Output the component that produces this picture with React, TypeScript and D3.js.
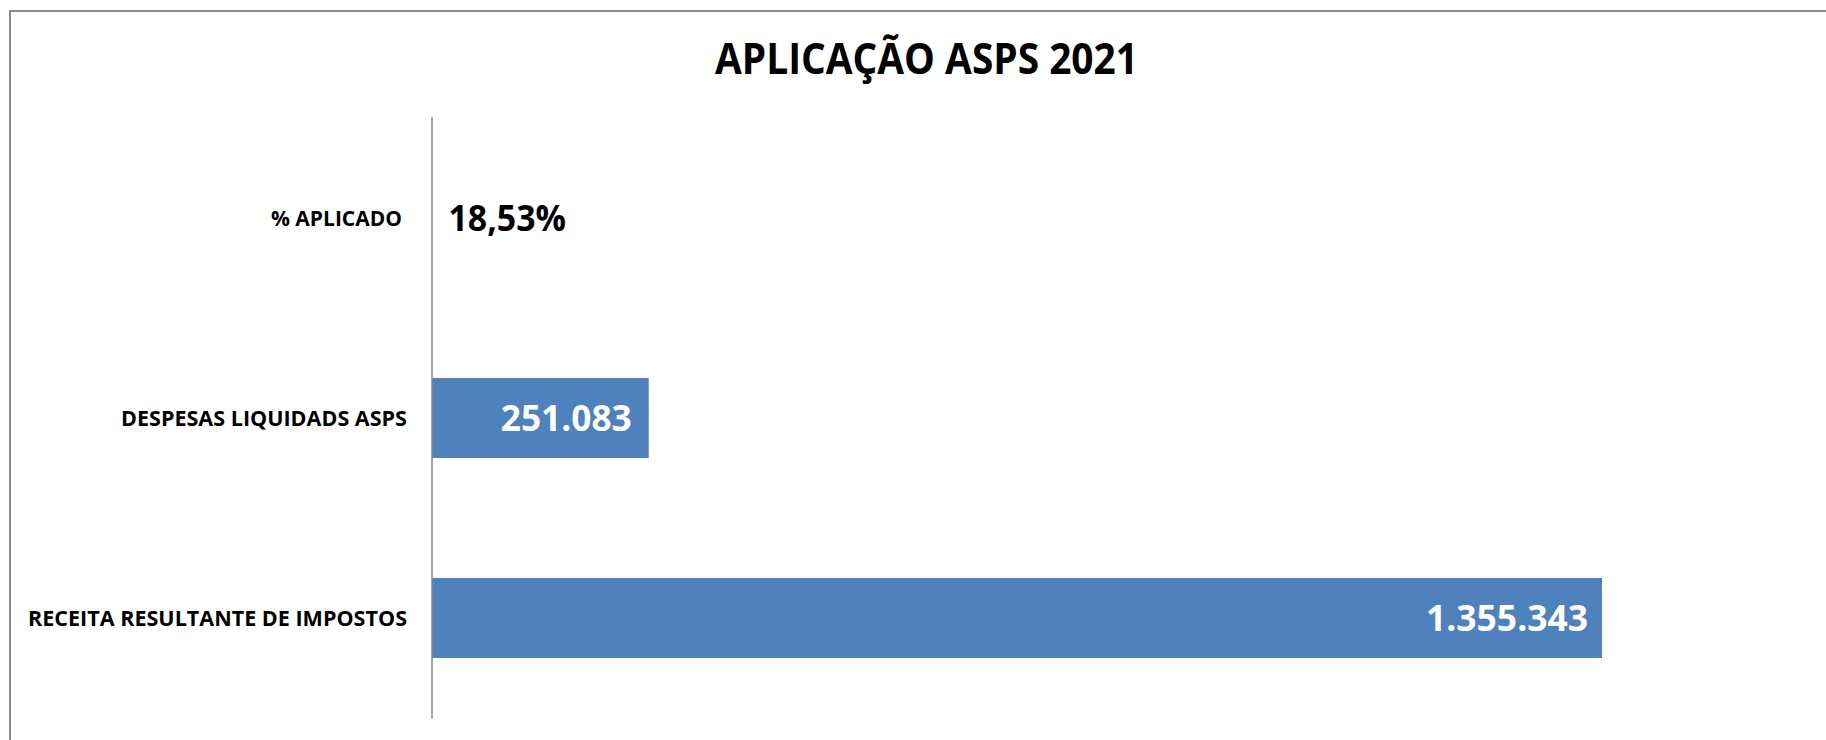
import React, { useEffect, useRef } from "react";
import * as d3 from "d3";

const TITLE = "APLICAÇÃO ASPS 2021";
const categories = ["% APLICADO", "DESPESAS LIQUIDADS ASPS", "RECEITA RESULTANTE DE IMPOSTOS"];
const values = [18.53, 251083, 1355343];
const valueLabels = ["18,53%", "251.083", "1.355.343"];

const W = 1826;
const H = 740;

export default function App() {
  const ref = useRef<SVGSVGElement | null>(null);

  useEffect(() => {
    const svg = d3.select(ref.current);
    svg.selectAll("*").remove();

    const font = "'Open Sans', 'DejaVu Sans', sans-serif";

    // chart area border (extends beyond the viewport to the right and bottom)
    svg.append("rect")
      .attr("x", 10).attr("y", 11)
      .attr("width", W + 20).attr("height", H + 20)
      .attr("fill", "#fff").attr("stroke", "#8c8c8c").attr("stroke-width", 2);

    const x = d3.scaleLinear().domain([0, 1400000]).range([432, 432 + 1170 * 1400000 / 1355343]);
    const y = d3.scaleBand<string>().domain(categories).range([118, 718]).paddingInner(0.6).paddingOuter(0.3);

    // title
    const title = svg.append("text")
      .attr("x", 715).attr("y", 74)
      .attr("font-family", font).attr("font-weight", 700).attr("font-size", 43)
      .attr("fill", "#000").text(TITLE);
    title.attr("textLength", 423).attr("lengthAdjust", "spacingAndGlyphs");

    // bars
    svg.selectAll("rect.bar")
      .data(values)
      .enter().append("rect")
      .attr("class", "bar")
      .attr("x", x(0))
      .attr("y", (_d, i) => y(categories[i])!)
      .attr("width", (d) => x(d) - x(0))
      .attr("height", y.bandwidth())
      .attr("fill", "#4F81BD");

    // axis line
    svg.append("line")
      .attr("x1", x(0)).attr("x2", x(0))
      .attr("y1", 117).attr("y2", 718.5)
      .attr("stroke", "#868686").attr("stroke-width", 1.5);

    // category labels
    const catWidths: Record<string, number> = {
      "% APLICADO": 131,
      "DESPESAS LIQUIDADS ASPS": 286,
      "RECEITA RESULTANTE DE IMPOSTOS": 379,
    };
    const catRight: Record<string, number> = {
      "% APLICADO": 402,
      "DESPESAS LIQUIDADS ASPS": 407,
      "RECEITA RESULTANTE DE IMPOSTOS": 407,
    };
    categories.forEach((c) => {
      const cy = y(c)! + y.bandwidth() / 2;
      svg.append("text")
        .attr("x", catRight[c] - catWidths[c])
        .attr("y", cy + 8)
        .attr("font-family", font).attr("font-weight", 700).attr("font-size", 22)
        .attr("fill", "#000")
        .attr("textLength", catWidths[c]).attr("lengthAdjust", "spacingAndGlyphs")
        .text(c);
    });

    // value labels
    const valW = [117.5, 131, 162];
    values.forEach((v, i) => {
      const c = categories[i];
      const cy = y(c)! + y.bandwidth() / 2;
      const inside = x(v) - x(0) > 200;
      const lx = inside ? x(v) - (i === 2 ? 14 : 17) - valW[i] : x(0) + 16.5;
      svg.append("text")
        .attr("x", lx)
        .attr("y", cy + 13)
        .attr("font-family", font).attr("font-weight", 700).attr("font-size", 35)
        .attr("fill", inside ? "#fff" : "#000")
        .attr("textLength", valW[i]).attr("lengthAdjust", "spacingAndGlyphs")
        .text(valueLabels[i]);
    });
  }, []);

  return (
    <svg
      ref={ref}
      width={W}
      height={H}
      style={{ position: "absolute", left: 0, top: 0, background: "#fff" }}
    />
  );
}
